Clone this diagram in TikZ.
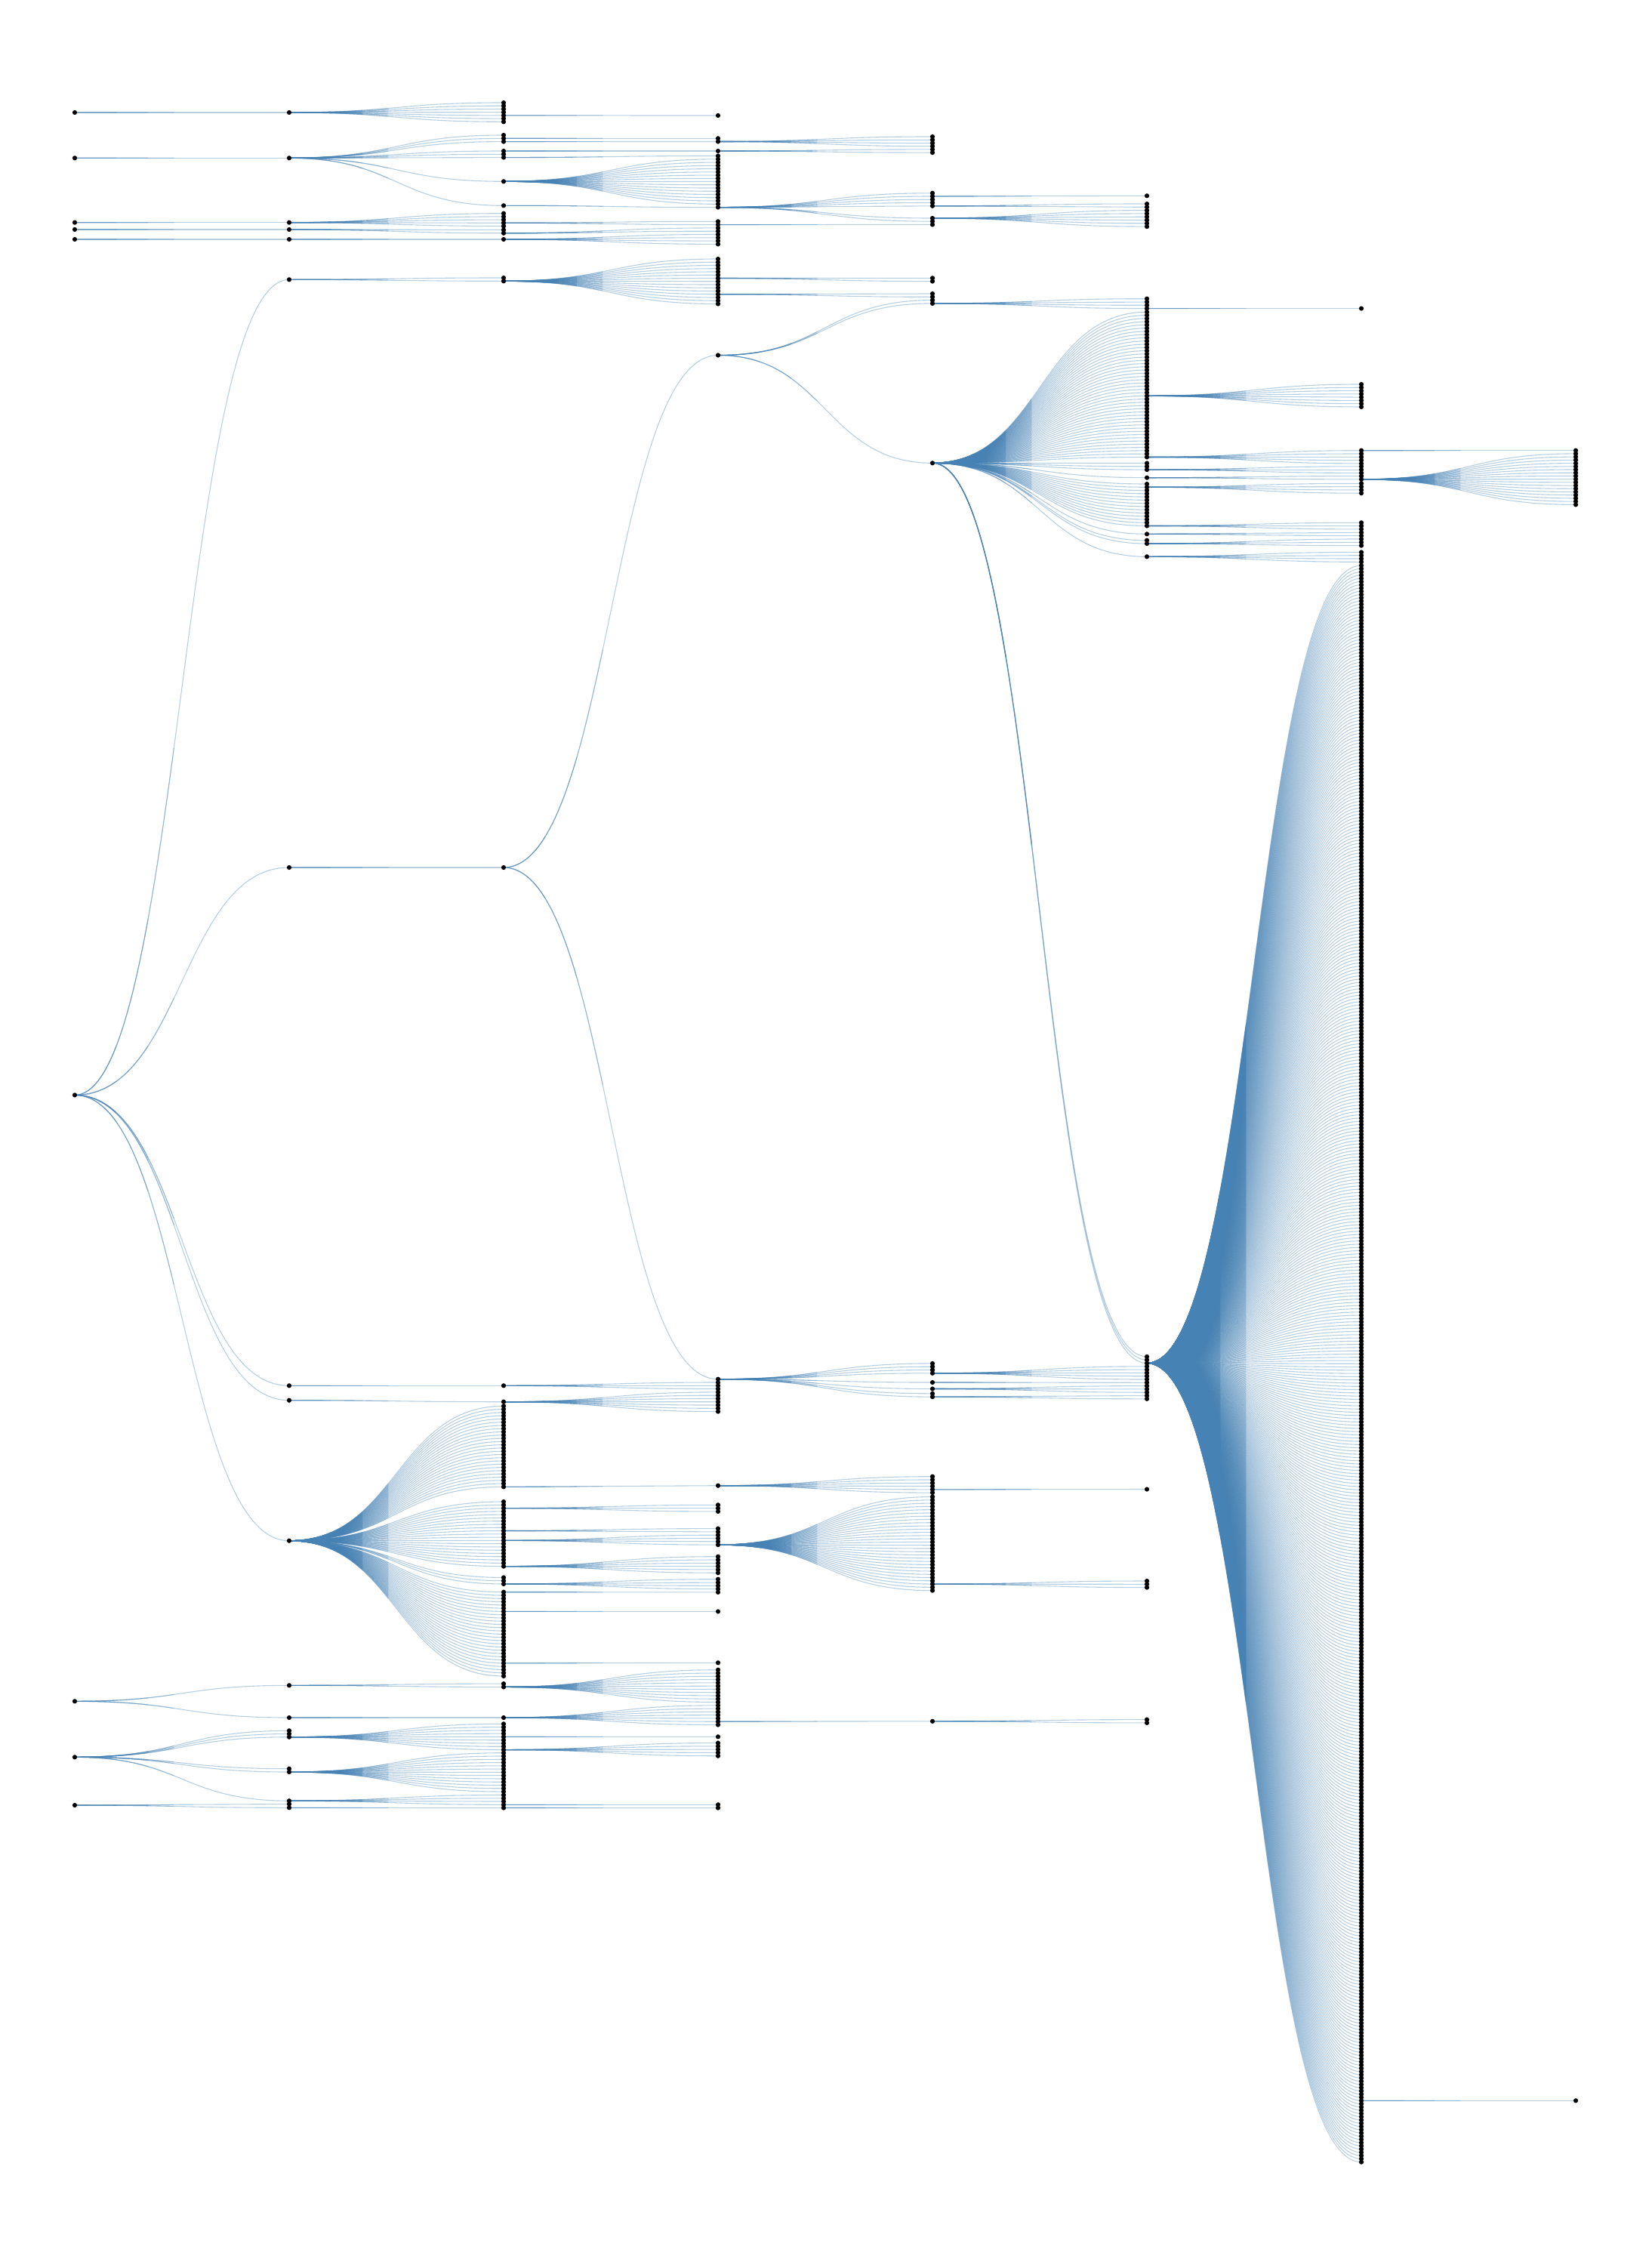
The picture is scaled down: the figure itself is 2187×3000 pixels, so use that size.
\documentclass[tikz,border=0pt]{standalone}
\usetikzlibrary{calc}
\definecolor{lk}{RGB}{70,130,180}
\tikzset{
  vdot/.style={circle, fill=black, draw=none, inner sep=0pt, minimum size=0.062cm},
  lnkl/.style={draw=lk, line width=0.011cm, draw opacity=0.38},
  lnkd/.style={draw=lk, line width=0.011cm, draw opacity=0.32},
}
\gdef\alldots{t1,t2,t3,t4,t5,root,b1,b2,b3}
% first part (0..t) of the link: parent, child, t, (1-t)^2, (1-t)^3, t^2, t^3, 3t^2-2t^3
\newcommand\mypart[8]{%
  \draw[lnkd] let \p1=(#1), \p2=(#2), \n1={0.5*(\x1+\x2)},
     \n2={(1-#3)*\x1+#3*\n1}, \n3={#4*\x1+(1-#4)*\n1}, \n4={(1-#6)*\y1+#6*\y2},
     \n5={#5*\x1+(1-#5-#7)*\n1+#7*\x2}, \n6={(1-#8)*\y1+#8*\y2} in
    (\p1) .. controls (\n2,\y1) and (\n3,\n4) .. (\n5,\n6);
}
\newcommand\mylink[2]{%
  \draw[lnkl] let \p1=(#1), \p2=(#2), \n1={0.5*(\x1+\x2)} in
    (\p1) .. controls (\n1,\y1) and (\n1,\y2) .. (\p2);
  \mypart{#1}{#2}{0.45}{0.3025}{0.166375}{0.2025}{0.091125}{0.42525}%
  \mypart{#1}{#2}{0.3}{0.49}{0.343}{0.09}{0.027}{0.216}%
  \mypart{#1}{#2}{0.15}{0.7225}{0.614125}{0.0225}{0.003375}{0.06075}%
}
% parent, prefix, x, list of y
\newcommand\myfan[4]{%
  \foreach \yy [count=\k] in {#4} {%
    \coordinate (#2-\k) at (#3,\yy);
    \mylink{#1}{#2-\k}%
    \xdef\alldots{\alldots,#2-\k}%
  }%
}
% parent, prefix, x, y0, n, dy
\newcommand\myfanr[6]{%
  \foreach \k in {1,...,#5} {%
    \pgfmathsetmacro\yy{#4+(\k-1)*#6}%
    \coordinate (#2-\k) at (#3,\yy);
    \mylink{#1}{#2-\k}%
    \xdef\alldots{\alldots,#2-\k}%
  }%
}
\begin{document}
\begin{tikzpicture}[x=0.01cm, y=-0.01cm]
\fill[white] (0,0) rectangle (2187,3000);
\useasboundingbox (0,0) rectangle (2187,3000);

% roots
\coordinate (t1) at (99,149);
\coordinate (t2) at (99,209.3);
\coordinate (t3) at (99,294.7);
\coordinate (t4) at (99,304);
\coordinate (t5) at (99,317);
\coordinate (root) at (99,1450.4);
\coordinate (b1) at (99,2253.3);
\coordinate (b2) at (99,2327.3);
\coordinate (b3) at (99,2391);

% top group
\myfan{t1}{a}{383}{149}
\myfan{t2}{b}{383}{209.3}
\myfan{t3}{c}{383}{294.7}
\myfan{t4}{d}{383}{304}
\myfan{t5}{e}{383}{317}

\myfanr{a-1}{aa}{667}{136}{7}{4.22}
\myfan{aa-5}{aaa}{951}{153}

\myfan{b-1}{ba}{667}{179, 183.3, 187.6, 200, 204.3, 208.6, 240.3, 272.3}
\myfan{ba-2}{bb}{951}{183.3}
\myfan{ba-3}{bc}{951}{187.5}
\myfan{ba-4}{bd}{951}{200}
\myfan{ba-6}{be}{951}{206.5}
\myfanr{ba-7}{bf}{951}{210.8}{15}{4.25}
\myfan{ba-8}{bg}{951}{274.6}
\myfan{bc-1}{bh}{1235}{181, 185.3, 189.5, 193.7}
\myfan{bd-1}{bi}{1235}{197.9, 202.1}
\myfan{bg-1}{bj}{1235}{255.8, 260, 264.3, 268.5, 272.8, 289, 293.2}
\myfan{bj-2}{bk}{1519}{259.3}
\myfan{bj-5}{bl}{1519}{270, 274.3}
\myfan{bj-6}{bm}{1519}{278.6, 282.9, 287.2, 291.5, 295.8, 300.1}

\myfan{c-1}{ca}{667}{282.7, 286.9, 291.1, 295.3, 299.5}
\myfan{d-1}{da}{667}{304.5, 308.8}
\myfan{e-1}{ea}{667}{317}
\myfan{ca-4}{cb}{951}{293.3, 297.6}
\myfan{da-2}{db}{951}{301.9, 306.2}
\myfan{ea-1}{eb}{951}{310.5, 314.8, 319.1, 323.4}
\myfan{cb-2}{cc}{1235}{297.5}

% root group
\myfan{root}{r}{383}{370.3, 1149, 1835.3, 1854.7, 2040.7}
\myfan{r-1}{ra}{667}{368, 372.3}
\myfanr{ra-2}{rb}{951}{343}{15}{4.25}
\myfan{rb-7}{rc}{1235}{368.3, 372.6}
\myfan{rb-12}{rd}{1235}{389, 393.3}
\myfan{r-2}{m}{667}{1149}
\myfan{m-1}{ma}{951}{470.5, 1826.7}
\myfan{ma-1}{mb}{1235}{397.6, 401.9, 613.3}
\myfan{mb-2}{mc}{1519}{395.7, 400, 404.3, 408.6}
\myfan{mc-4}{md}{1803}{408.6}
\myfanr{mb-3}{me}{1519}{413.3}{46}{4.27}
\myfan{mb-3}{mf}{1519}{613.5, 617.8, 622.1, 632.7}
\myfanr{mb-3}{mg}{1519}{641}{14}{4.27}
\myfan{mb-3}{mh}{1519}{707.3, 715.7, 720, 737.3}
\myfan{mb-3}{mi}{1519}{1796.9, 1801.2, 1805.5}
\myfanr{me-27}{na}{1803}{509}{8}{4.28}
\myfan{me-46}{nb}{1803}{596.7, 601, 605.3, 609.6, 613.9}
\myfan{mf-3}{nc}{1803}{617.8, 622.1, 626.4}
\myfan{mf-4}{nd}{1803}{630.6, 634.9}
\myfan{mg-2}{ne}{1803}{640.3, 644.6, 648.9, 653.2}
\myfan{mg-14}{nf}{1803}{692.3, 696.6, 700.9}
\myfan{mh-1}{ng}{1803}{705.3, 709.6}
\myfan{mh-3}{nh}{1803}{714, 718.3, 722.6}
\myfan{mh-4}{ni}{1803}{731.4, 735.7, 740, 744.3}
\myfan{nb-1}{oa}{2087}{596.7}
\myfanr{nd-2}{ob}{2087}{600.9}{17}{4.22}
\myfanr{mi-3}{big}{1803}{749}{495}{4.2806}
\myfan{big-476}{oc}{2087}{2782.3}

% middle bar
\myfan{r-3}{p}{667}{1835.3}
\myfan{r-4}{q}{667}{1856.7}
\myfan{p-1}{pa}{951}{1831, 1835.3, 1839.6}
\myfanr{q-1}{qa}{951}{1843.9}{7}{4.28}
\myfan{ma-2}{mj}{1235}{1805.9, 1810.2, 1814.5, 1818.8, 1831, 1839.5, 1845.8, 1850.1}
\myfan{mj-4}{mk}{1519}{1809.8, 1814.1, 1818.4, 1822.7, 1827}
\myfan{mj-5}{ml}{1519}{1831.3}
\myfan{mj-6}{mm}{1519}{1835.6, 1839.9, 1844.2}
\myfan{mj-8}{mn}{1519}{1848.5, 1852.8}

% lower fan of the root
\myfanr{r-5}{s}{667}{1862.3}{26}{4.28}
\myfanr{r-5}{u}{667}{1989}{21}{4.28}
\myfanr{r-5}{v}{667}{2089.4}{3}{4.28}
\myfanr{r-5}{w}{667}{2108.7}{27}{4.28}
\myfan{s-26}{sa}{951}{1967.7}
\myfan{u-3}{ua}{951}{1993.3, 1997.6, 2001.9}
\myfan{u-10}{ub}{951}{2024.6, 2028.9}
\myfan{u-13}{uc}{951}{2033.2, 2037.5, 2041.8, 2046.1}
\myfan{u-21}{ud}{951}{2061.7, 2066, 2070.3, 2074.6, 2078.9, 2083.2}
\myfan{v-3}{va}{951}{2091.7, 2096, 2100.3, 2104.6}
\myfan{w-1}{wa}{951}{2108.9}
\myfan{w-7}{wb}{951}{2134.4}
\myfan{w-23}{wc}{951}{2202.3}
\myfanr{sa-1}{sb}{1235}{1955.7}{6}{4.28}
\myfan{sb-5}{sc}{1519}{1972.5}
\myfanr{uc-4}{ue}{1235}{1982.5}{30}{4.28}
\myfan{ue-28}{uf}{1519}{2094, 2098.3, 2102.6}

% bottom group
\myfan{b1}{x}{383}{2232.3, 2275}
\myfan{b2}{y}{383}{2292.3, 2296.5, 2300.7, 2342.7, 2347, 2385.2}
\myfan{b3}{z}{383}{2389.5, 2394.3}
\myfan{x-1}{xa}{667}{2230.1, 2234.4}
\myfan{x-2}{xb}{667}{2275}
\myfanr{xa-2}{xc}{951}{2211.7}{11}{4.28}
\myfanr{xb-1}{xd}{951}{2258.8}{7}{4.28}
\myfan{xd-6}{xe}{1235}{2279.8}
\myfan{xe-1}{xf}{1519}{2277.6, 2281.9}
\myfanr{y-3}{ya}{667}{2283.3}{9}{4.28}
\myfanr{y-5}{yb}{667}{2321.7}{13}{4.28}
\myfan{y-6}{yc}{667}{2377.5, 2381.8, 2386, 2390.3}
\myfan{z-2}{za}{667}{2394.5}
\myfan{ya-5}{yd}{951}{2300.3}
\myfan{ya-9}{ye}{951}{2308.5, 2312.8, 2317.1, 2321.4, 2325.7}
\myfan{yc-4}{yf}{951}{2390.3}
\myfan{za-1}{yg}{951}{2394.6}

% dots on top of all links
\foreach \nm in \alldots {\node[vdot] (dot-\nm) at (\nm) {};}
\end{tikzpicture}
\end{document}
